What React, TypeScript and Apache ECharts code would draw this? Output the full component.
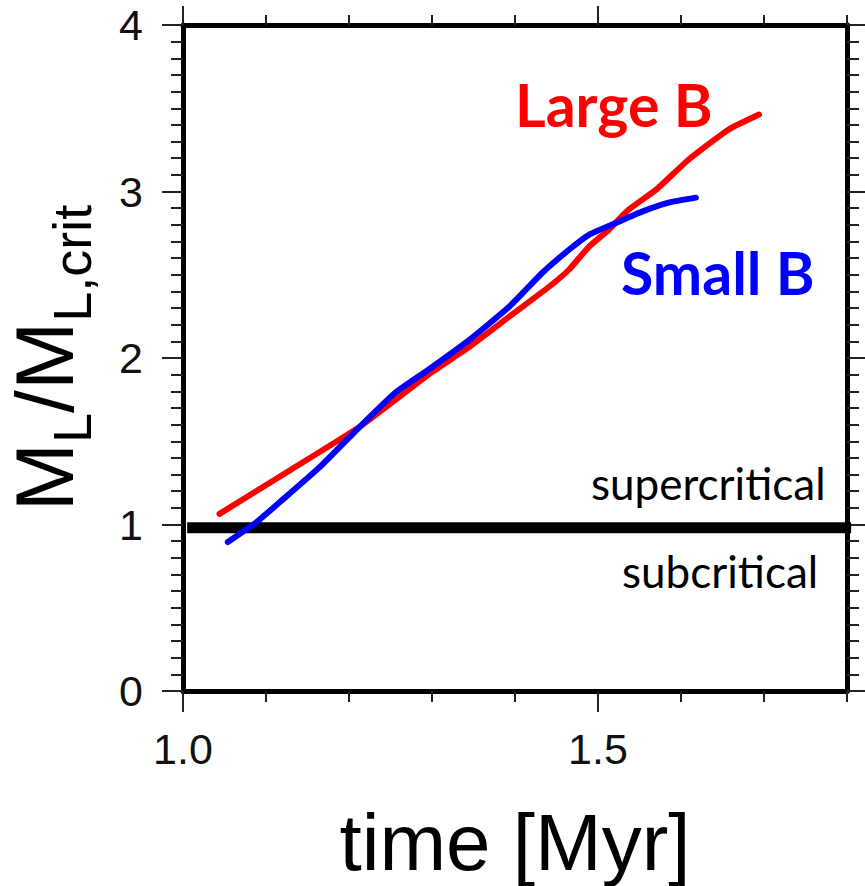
import React, { useEffect, useRef } from 'react';
import * as echarts from 'echarts';

// Large B (red) curve: time [Myr] and M_L / M_L,crit
const largeBTime = [1.044, 1.129, 1.213, 1.297, 1.345, 1.393, 1.441, 1.465, 1.489, 1.513, 1.537, 1.570, 1.609, 1.657, 1.694];
const largeBRatio = [1.064, 1.326, 1.588, 1.905, 2.067, 2.248, 2.428, 2.530, 2.668, 2.770, 2.891, 3.011, 3.191, 3.371, 3.462];

// Small B (blue) curve
const smallBTime = [1.054, 1.089, 1.117, 1.165, 1.213, 1.257, 1.297, 1.345, 1.393, 1.433, 1.465, 1.489, 1.522, 1.553, 1.585, 1.618];
const smallBRatio = [0.895, 1.016, 1.136, 1.346, 1.587, 1.797, 1.935, 2.109, 2.308, 2.512, 2.650, 2.740, 2.812, 2.879, 2.933, 2.963];

// critical threshold line
const criticalTime = [1.005, 1.805];
const criticalRatio = [0.98, 0.98];

// axes
const xMin = 1.0;
const xMax = 1.8;
const xTickLabels = [1.0, 1.5];
const yMin = 0;
const yMax = 4;

const zip = (xs: number[], ys: number[]) => xs.map((x, i) => [x, ys[i]]);

const AX = 'Liberation Sans, Arial, sans-serif';
const TXT = 'Lato, Calibri, sans-serif';
const tickColor = '#222';

export default function App() {
  const ref = useRef<HTMLDivElement>(null);
  useEffect(() => {
    if (!ref.current) return;
    const chart = echarts.init(ref.current, undefined, { renderer: 'svg' });
    const baseX = {
      type: 'value',
      min: xMin,
      max: xMax,
      splitLine: { show: false },
    };
    const option: any = {
      animation: false,
      backgroundColor: '#ffffff',
      grid: { left: 183, right: 18, top: 25, bottom: 195, containLabel: false, outerBoundsMode: 'none' },
      xAxis: [
        {
          ...baseX,
          position: 'bottom',
          interval: 0.1,
          axisLine: { show: true, onZero: false, lineStyle: { color: '#000', width: 5 } },
          axisTick: { show: true, length: 11, lineStyle: { color: tickColor, width: 2 } },
          axisLabel: {
            show: true,
            margin: 36,
            fontSize: 43,
            lineHeight: 43,
            fontFamily: AX,
            color: '#111',
            formatter: (v: number) => (xTickLabels.some((t) => Math.abs(t - v) < 1e-6) ? v.toFixed(1) : ''),
          },
          name: 'time [Myr]',
          nameLocation: 'middle',
          nameGap: 111,
          nameTextStyle: { fontSize: 80, lineHeight: 80, fontFamily: AX, color: '#000' },
        },
        {
          ...baseX,
          position: 'top',
          interval: 0.1,
          axisLine: { show: true, onZero: false, lineStyle: { color: '#000', width: 5 } },
          axisTick: { show: true, length: 10, lineStyle: { color: tickColor, width: 2 } },
          axisLabel: { show: false },
        },
        {
          ...baseX,
          position: 'bottom',
          interval: 0.5,
          axisLine: { show: false, onZero: false },
          axisTick: { show: true, length: 21, customValues: xTickLabels, lineStyle: { color: tickColor, width: 2 } },
          axisLabel: { show: false },
        },
        {
          ...baseX,
          position: 'top',
          interval: 0.5,
          axisLine: { show: false, onZero: false },
          axisTick: { show: true, length: 19, customValues: xTickLabels, lineStyle: { color: tickColor, width: 2 } },
          axisLabel: { show: false },
        },
      ],
      yAxis: [
        {
          type: 'value',
          position: 'left',
          min: yMin,
          max: yMax,
          interval: 1,
          axisLine: { show: true, onZero: false, lineStyle: { color: '#000', width: 5 } },
          axisTick: { show: true, length: 21, lineStyle: { color: tickColor, width: 2 } },
          minorTick: { show: true, splitNumber: 10, length: 12, lineStyle: { color: tickColor, width: 2 } },
          splitLine: { show: false },
          axisLabel: { show: true, margin: 40, fontSize: 43, lineHeight: 43, fontFamily: AX, color: '#111' },
          name: '{m|M}{s|L}{m|/M}{s|L,crit}',
          nameLocation: 'middle',
          nameRotate: 90,
          nameGap: 89,
          nameTextStyle: {
            fontFamily: AX,
            color: '#000',
            lineHeight: 100,
            rich: {
              m: { fontSize: 82, lineHeight: 100, fontFamily: AX, color: '#000' },
              s: { fontSize: 54, lineHeight: 100, padding: [55, 0, 0, 0], fontFamily: AX, color: '#000' },
            },
          },
        },
        {
          type: 'value',
          position: 'right',
          min: yMin,
          max: yMax,
          interval: 1,
          axisLine: { show: true, onZero: false, lineStyle: { color: '#000', width: 5 } },
          axisTick: { show: true, length: 18, lineStyle: { color: tickColor, width: 2 } },
          minorTick: { show: true, splitNumber: 10, length: 12, lineStyle: { color: tickColor, width: 2 } },
          splitLine: { show: false },
          axisLabel: { show: false },
        },
      ],
      series: [
        {
          type: 'line',
          name: 'critical',
          xAxisIndex: 0,
          yAxisIndex: 0,
          data: zip(criticalTime, criticalRatio),
          showSymbol: false,
          symbol: 'none',
          clip: false,
          lineStyle: { color: '#000', width: 11, cap: 'butt' },
          z: 3,
        },
        {
          type: 'line',
          name: 'Large B',
          xAxisIndex: 0,
          yAxisIndex: 0,
          data: zip(largeBTime, largeBRatio),
          showSymbol: false,
          symbol: 'none',
          smooth: 0.15,
          lineStyle: { color: '#ff0000', width: 6, cap: 'round', join: 'round' },
          z: 4,
        },
        {
          type: 'line',
          name: 'Small B',
          xAxisIndex: 0,
          yAxisIndex: 0,
          data: zip(smallBTime, smallBRatio),
          showSymbol: false,
          symbol: 'none',
          smooth: 0.15,
          lineStyle: { color: '#0000ff', width: 6, cap: 'round', join: 'round' },
          z: 5,
        },
      ],
      graphic: [
        {
          type: 'text',
          x: 515,
          y: 104,
          style: { text: 'Large B', font: `bold 59px ${TXT}`, fill: '#ff0000', align: 'left', verticalAlign: 'middle', textAlign: 'left', textVerticalAlign: 'middle' },
        },
        {
          type: 'text',
          x: 621,
          y: 272,
          style: { text: 'Small B', font: `bold 59px ${TXT}`, fill: '#0000ff', align: 'left', verticalAlign: 'middle', textAlign: 'left', textVerticalAlign: 'middle' },
        },
        {
          type: 'text',
          x: 591,
          y: 483,
          style: { text: 'supercritical', font: `44px ${TXT}`, fill: '#000', align: 'left', verticalAlign: 'middle', textAlign: 'left', textVerticalAlign: 'middle' },
        },
        {
          type: 'text',
          x: 622,
          y: 571,
          style: { text: 'subcritical', font: `44px ${TXT}`, fill: '#000', align: 'left', verticalAlign: 'middle', textAlign: 'left', textVerticalAlign: 'middle' },
        },
      ],
    };
    chart.setOption(option);
    return () => chart.dispose();
  }, []);
  return (
    <div
      ref={ref}
      style={{ position: 'fixed', left: 0, top: 0, width: 865, height: 886, background: '#fff' }}
    />
  );
}
